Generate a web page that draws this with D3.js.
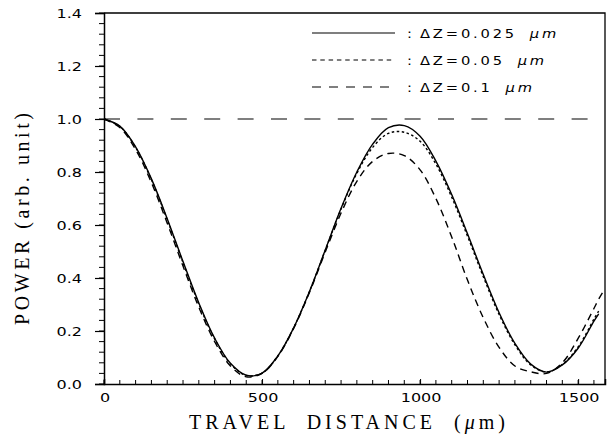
<!DOCTYPE html>
<html>
<head>
<meta charset="utf-8">
<script src="https://cdn.jsdelivr.net/npm/d3@7/dist/d3.min.js"></script>
<style>
  body { margin: 0; background: #fff; }
  svg { display: block; }
  .tick-label { font-family: "DejaVu Sans", sans-serif; font-size: 12.5px; fill: #000; }
  .title { font-family: "Liberation Serif", "Times New Roman", serif; font-size: 20px; fill: #000; white-space: pre; }
  .legend-text { font-family: "DejaVu Sans", sans-serif; font-size: 11.5px; letter-spacing: 2.2px; fill: #000; white-space: pre; }
</style>
</head>
<body>
<div id="chart"></div>
<script>
// travel distance (um) grid shared by all curves
var distance = [0, 50, 100, 150, 200, 250, 300, 350, 400, 450, 500, 550, 600, 650, 700, 750,
                800, 850, 900, 950, 1000, 1050, 1100, 1150, 1200, 1250, 1300, 1350, 1400,
                1450, 1500, 1550, 1565, 1585];

// power for dZ = 0.025 um (solid)
var powerSolid = [1.000, 0.973, 0.895, 0.774, 0.624, 0.462, 0.306, 0.173, 0.078, 0.033, 0.041,
                  0.106, 0.212, 0.349, 0.506, 0.663, 0.800, 0.905, 0.967, 0.975, 0.935, 0.841,
                  0.715, 0.567, 0.413, 0.269, 0.153, 0.075, 0.045, 0.072, 0.135, 0.237, 0.265, null];

// power for dZ = 0.05 um (dotted)
var powerDotted = [1.000, 0.972, 0.893, 0.771, 0.620, 0.458, 0.302, 0.170, 0.076, 0.032, 0.041,
                   0.106, 0.212, 0.349, 0.505, 0.660, 0.795, 0.893, 0.946, 0.950, 0.916, 0.830,
                   0.705, 0.558, 0.405, 0.262, 0.148, 0.072, 0.045, 0.074, 0.140, 0.245, 0.275, null];

// power for dZ = 0.1 um (dashed)
var powerDashed = [1.000, 0.968, 0.885, 0.760, 0.607, 0.445, 0.290, 0.160, 0.068, 0.027, 0.040,
                   0.104, 0.210, 0.345, 0.498, 0.645, 0.765, 0.840, 0.870, 0.862, 0.808, 0.700,
                   0.555, 0.392, 0.250, 0.138, 0.068, 0.046, 0.040, 0.080, 0.172, 0.285, 0.320, 0.360];

var xMajor = [0, 500, 1000, 1500];
var yMajor = [0.0, 0.2, 0.4, 0.6, 0.8, 1.0, 1.2, 1.4];
var legendLabels = ["0.025", "0.05", "0.1"];

var width = 608, height = 434;
var margin = {top: 13, right: 3, bottom: 50, left: 104};
var stretch = 1.28;   // the original lettering is a wide sans

var svg = d3.select("#chart").append("svg")
    .attr("width", width)
    .attr("height", height);

var x = d3.scaleLinear().domain([0, 1585]).range([margin.left, width - margin.right]);
var y = d3.scaleLinear().domain([0, 1.4]).range([height - margin.bottom, margin.top]);

// frame (top + right)
svg.append("path")
    .attr("d", "M" + x(0) + "," + y(1.4) + "H" + x(1585) + "V" + y(0))
    .attr("fill", "none")
    .attr("stroke", "#000")
    .attr("stroke-width", 1.3);

// y axis with minor ticks
var yAxis = d3.axisLeft(y)
    .tickValues(yMajor)
    .tickSize(9)
    .tickFormat("");
var yMinor = d3.range(0, 1.4001, 0.04);

var gy = svg.append("g").attr("transform", "translate(" + x(0) + ",0)");
gy.selectAll("line.minor").data(yMinor).enter().append("line")
    .attr("x1", -5).attr("x2", 0)
    .attr("y1", function(d){ return y(d); })
    .attr("y2", function(d){ return y(d); })
    .attr("stroke", "#000");
gy.call(yAxis);
gy.select(".domain").attr("stroke-width", 1.5);
gy.selectAll(".tick line").attr("stroke-width", 1.2);

svg.selectAll("text.ylab").data(yMajor).enter().append("text")
    .attr("class", "tick-label")
    .attr("text-anchor", "end")
    .attr("dy", "0.36em")
    .attr("transform", function(d){ return "translate(" + (x(0) - 22) + "," + y(d) + ") scale(" + stretch + ",1)"; })
    .text(d3.format(".1f"));

// x axis, ticks point inward
var xAxis = d3.axisTop(x)
    .tickValues(xMajor)
    .tickSize(5)
    .tickFormat("");
var xMinor = d3.range(0, 1585, 50);

var gx = svg.append("g").attr("transform", "translate(0," + y(0) + ")");
gx.selectAll("line.minor").data(xMinor).enter().append("line")
    .attr("x1", function(d){ return x(d); })
    .attr("x2", function(d){ return x(d); })
    .attr("y1", -4).attr("y2", 0)
    .attr("stroke", "#000");
gx.call(xAxis);
gx.select(".domain").attr("stroke-width", 1.5);

svg.selectAll("text.xlab").data(xMajor).enter().append("text")
    .attr("class", "tick-label")
    .attr("text-anchor", "middle")
    .attr("transform", function(d){ return "translate(" + (x(d) + 1) + "," + (y(0) + 18) + ") scale(" + stretch + ",1)"; })
    .text(d3.format("d"));

// reference line at 1.0
svg.append("line")
    .attr("x1", x(0)).attr("x2", x(1585))
    .attr("y1", y(1.0)).attr("y2", y(1.0))
    .attr("stroke", "#000")
    .attr("stroke-width", 1.2)
    .attr("stroke-dasharray", "16,17.4");

// curves
var series = [
    {values: powerSolid, dash: null, legendDash: null},
    {values: powerDotted, dash: "2.5,2.5", legendDash: "4.5,3.8"},
    {values: powerDashed, dash: "7,5", legendDash: "9,8"}
];

var line = d3.line()
    .defined(function(d){ return d[1] != null; })
    .x(function(d){ return x(d[0]); })
    .y(function(d){ return y(d[1]); })
    .curve(d3.curveCatmullRom);

series.forEach(function(s){
    var pts = distance.map(function(d, i){ return [d, s.values[i]]; });
    svg.append("path")
        .datum(pts)
        .attr("d", line)
        .attr("fill", "none")
        .attr("stroke", "#000")
        .attr("stroke-width", 1.4)
        .attr("stroke-dasharray", s.dash);
});

// legend
var legendY = [33, 60, 87];
series.forEach(function(s, i){
    svg.append("line")
        .attr("x1", 312).attr("x2", 395)
        .attr("y1", legendY[i]).attr("y2", legendY[i])
        .attr("stroke", "#000")
        .attr("stroke-width", 1.2)
        .attr("stroke-dasharray", s.legendDash);
    svg.append("text")
        .attr("class", "legend-text")
        .attr("transform", "translate(407," + (legendY[i] + 4.5) + ") scale(" + stretch + ",1)")
        .text(":");
    var t = svg.append("text")
        .attr("class", "legend-text")
        .attr("transform", "translate(420," + (legendY[i] + 4.5) + ") scale(" + stretch + ",1)");
    t.append("tspan").text("\u0394Z=" + legendLabels[i]);
    t.append("tspan").attr("dx", 10).attr("font-style", "italic").text("\u03bcm");
});

// axis titles
var xt = svg.append("text")
    .attr("class", "title")
    .attr("x", 189)
    .attr("y", 429)
    .attr("textLength", 316)
    .attr("lengthAdjust", "spacing");
xt.append("tspan").text("TRAVEL  DISTANCE  (");
xt.append("tspan").attr("font-style", "italic").text("\u03bc");
xt.append("tspan").text("m)");

svg.append("text")
    .attr("class", "title")
    .attr("transform", "translate(29,325) rotate(-90)")
    .attr("textLength", 212)
    .attr("lengthAdjust", "spacing")
    .text("POWER (arb. unit)");
</script>
</body>
</html>
